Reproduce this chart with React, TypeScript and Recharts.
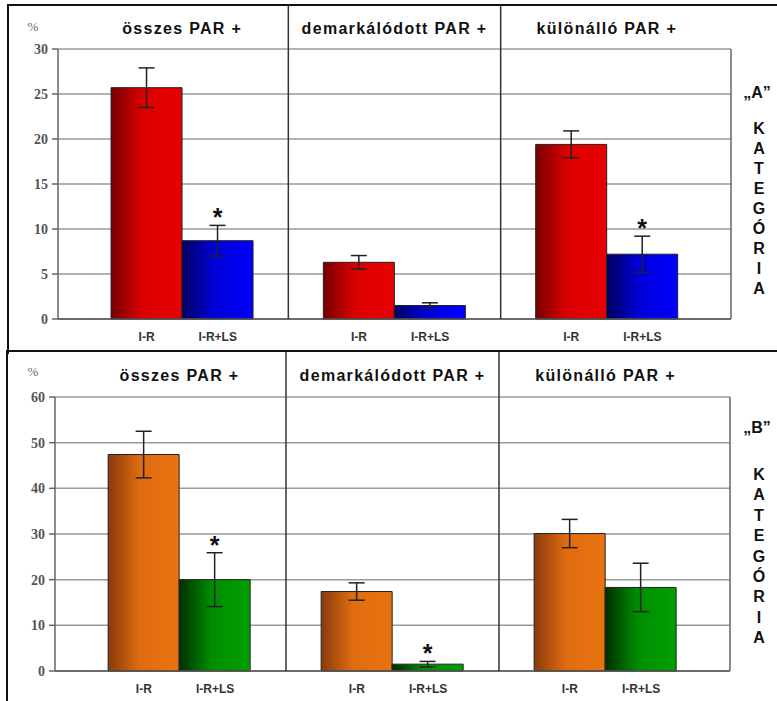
import React from "react";
import { BarChart, Bar, XAxis, YAxis, CartesianGrid, ErrorBar, LabelList } from "recharts";

const groups = ["összes PAR +", "demarkálódott PAR +", "különálló PAR +"];
const barLabels = ["I-R", "I-R+LS"];

// „A” kategória
const aIR = [25.7, 6.3, 19.4];
const aIRErr = [2.2, 0.75, 1.5];
const aLS = [8.7, 1.5, 7.2];
const aLSErr = [1.7, 0.3, 2.0];
const aSig = [true, false, true];
const aTicks = [0, 5, 10, 15, 20, 25, 30];

// „B” kategória
const bIR = [47.4, 17.4, 30.1];
const bIRErr = [5.1, 1.9, 3.1];
const bLS = [20.0, 1.5, 18.3];
const bLSErr = [5.9, 0.6, 5.3];
const bSig = [true, true, false];
const bTicks = [0, 10, 20, 30, 40, 50, 60];

const sideWord = "KATEGÓRIA".split("");

const GAP = 0.165;
const SANS = "'Liberation Sans', Arial, sans-serif";
const SERIF = "'Liberation Serif', 'Times New Roman', serif";

type Layout = {
  top: number;
  height: number;
  mTop: number;
  titleH: number;
  xH: number;
  mLeft: number;
  yW: number;
  mRight: number;
  titleY: number;
};

const build = (ir: number[], irErr: number[], ls: number[], lsErr: number[]) =>
  groups.map((g, i) => ({ group: g, ir: ir[i], irErr: irErr[i], ls: ls[i], lsErr: lsErr[i] }));

function TitleTick(props: any) {
  const { x, payload, index, lay } = props;
  const off = payload?.offset ?? 0;
  const plotBottom = lay.height - lay.xH;
  return (
    <g>
      {index > 0 && (
        <line x1={x - off} x2={x - off} y1={lay.mTop} y2={plotBottom} stroke="#333" strokeWidth={1.5} />
      )}
      <text
        x={x}
        y={lay.titleY}
        textAnchor="middle"
        fontFamily={SANS}
        fontWeight="bold"
        fontSize={16}
        letterSpacing={1.3}
        fill="#111"
      >
        {payload.value}
      </text>
    </g>
  );
}

function BarTick(props: any) {
  const { x, y, payload } = props;
  const off = payload?.offset ?? 0;
  const q = (off * (1 - 2 * GAP)) / 2;
  return (
    <g>
      {barLabels.map((l, i) => (
        <text
          key={l}
          x={x + (i === 0 ? -q : q)}
          y={y + 14}
          textAnchor="middle"
          fontFamily={SANS}
          fontWeight="bold"
          fontSize={12}
          fill="#333"
        >
          {l}
        </text>
      ))}
    </g>
  );
}

function ValueTick(props: any) {
  const { x, y, payload } = props;
  return (
    <text x={x} y={y + 5} textAnchor="end" fontFamily={SERIF} fontWeight="bold" fontSize={14} fill="#555">
      {payload.value}
    </text>
  );
}

const starContent = (sig: boolean[], err: number[]) => (props: any) => {
  const vb = props.viewBox || props;
  const { x, y, width, height } = vb;
  const i = props.index;
  if (!sig[i]) return null;
  const v = Number(props.value);
  const errTop = y - (err[i] * height) / v;
  return (
    <text x={x + width / 2} y={errTop + 1} textAnchor="middle" fontSize={25} fontWeight="bold" fontFamily={SANS} fill="#111">
      *
    </text>
  );
};

function Panel({
  id,
  data,
  ticks,
  sig,
  lsErr,
  lay,
  irColors,
  lsColors,
}: {
  id: string;
  data: any[];
  ticks: number[];
  sig: boolean[];
  lsErr: number[];
  lay: Layout;
  irColors: string[];
  lsColors: string[];
}) {
  return (
    <div style={{ position: "absolute", left: 0, top: lay.top }}>
      <BarChart
        width={777}
        height={lay.height}
        data={data}
        margin={{ top: lay.mTop, left: lay.mLeft, right: lay.mRight, bottom: 0 }}
        barGap={0}
        barCategoryGap={`${GAP * 100}%`}
      >
        <defs>
          <linearGradient id={`${id}-ir`} x1="0" y1="0" x2="1" y2="0">
            <stop offset="0%" stopColor={irColors[0]} />
            <stop offset="45%" stopColor={irColors[1]} />
            <stop offset="100%" stopColor={irColors[2]} />
          </linearGradient>
          <linearGradient id={`${id}-ls`} x1="0" y1="0" x2="1" y2="0">
            <stop offset="0%" stopColor={lsColors[0]} />
            <stop offset="45%" stopColor={lsColors[1]} />
            <stop offset="100%" stopColor={lsColors[2]} />
          </linearGradient>
        </defs>
        <CartesianGrid vertical={false} stroke="#9a9a9a" strokeWidth={1.5} />
        <XAxis
          xAxisId="top"
          orientation="top"
          dataKey="group"
          height={lay.titleH}
          padding={{ left: 18, right: 18 }}
          axisLine={false}
          tickLine={false}
          interval={0}
          tick={(p: any) => <TitleTick {...p} lay={lay} />}
        />
        <XAxis
          dataKey="group"
          height={lay.xH}
          padding={{ left: 18, right: 18 }}
          axisLine={{ stroke: "#555", strokeWidth: 1.5 }}
          tickLine={false}
          interval={0}
          tick={(p: any) => <BarTick {...p} />}
        />
        <YAxis
          domain={[0, ticks[ticks.length - 1]]}
          ticks={ticks}
          width={lay.yW}
          interval={0}
          tickSize={6}
          tickMargin={4}
          axisLine={{ stroke: "#666", strokeWidth: 1.5 }}
          tickLine={{ stroke: "#666", strokeWidth: 1.5 }}
          tick={(p: any) => <ValueTick {...p} />}
        />
        <YAxis
          yAxisId="right"
          orientation="right"
          width={1}
          tick={false}
          tickLine={false}
          axisLine={{ stroke: "#666", strokeWidth: 1.5 }}
        />
        <Bar dataKey="ir" fill={`url(#${id}-ir)`} stroke="#222" strokeWidth={1} isAnimationActive={false}>
          <ErrorBar dataKey="irErr" width={8} stroke="#222" strokeWidth={1.5} />
        </Bar>
        <Bar dataKey="ls" fill={`url(#${id}-ls)`} stroke="#222" strokeWidth={1} isAnimationActive={false}>
          <ErrorBar dataKey="lsErr" width={8} stroke="#222" strokeWidth={1.5} />
          <LabelList dataKey="ls" content={starContent(sig, lsErr)} />
        </Bar>
      </BarChart>
    </div>
  );
}

function SideText({ tag, tagY, firstY, step }: { tag: string; tagY: number; firstY: number; step: number }) {
  const base = { position: "absolute" as const, left: 740, width: 34, textAlign: "center" as const, fontFamily: SANS, fontWeight: "bold" as const, fontSize: 16, lineHeight: "20px", color: "#111" };
  return (
    <>
      <div style={{ ...base, top: tagY - 10 }}>{tag}</div>
      {sideWord.map((c, i) => (
        <div key={i} style={{ ...base, left: 742, top: firstY + i * step - 10 }}>
          {c}
        </div>
      ))}
    </>
  );
}

export default function App() {
  const layA: Layout = { top: 0, height: 352, mTop: 5, titleH: 44, xH: 33, mLeft: 8, yW: 50, mRight: 45, titleY: 34 };
  const layB: Layout = { top: 351, height: 350, mTop: 1, titleH: 45, xH: 30, mLeft: 7, yW: 48, mRight: 46, titleY: 30 };
  const pct = { position: "absolute" as const, left: 24, width: 18, textAlign: "center" as const, fontFamily: SERIF, fontSize: 13, color: "#666" };

  return (
    <div style={{ position: "absolute", left: 0, top: 0, width: 777, height: 701, background: "#fff", overflow: "hidden" }}>
      <div style={{ position: "absolute", left: 7, top: 4, width: 780, height: 348, borderTop: "2px solid #111", borderLeft: "2px solid #111" }} />
      <div style={{ position: "absolute", left: 6, top: 350, width: 780, height: 360, borderTop: "2px solid #111", borderLeft: "2px solid #111" }} />
      <Panel
        id="a"
        data={build(aIR, aIRErr, aLS, aLSErr)}
        ticks={aTicks}
        sig={aSig}
        lsErr={aLSErr}
        lay={layA}
        irColors={["#760000", "#dc0000", "#e80000"]}
        lsColors={["#000060", "#0000d8", "#0000ff"]}
      />
      <Panel
        id="b"
        data={build(bIR, bIRErr, bLS, bLSErr)}
        ticks={bTicks}
        sig={bSig}
        lsErr={bLSErr}
        lay={layB}
        irColors={["#8a3a0c", "#e06c10", "#e8730f"]}
        lsColors={["#002e00", "#008c00", "#00a000"]}
      />
      <div style={{ ...pct, top: 19 }}>%</div>
      <div style={{ ...pct, top: 364 }}>%</div>
      <SideText tag="„A”" tagY={93} firstY={129} step={20} />
      <SideText tag="„B”" tagY={428} firstY={475} step={20.4} />
    </div>
  );
}
